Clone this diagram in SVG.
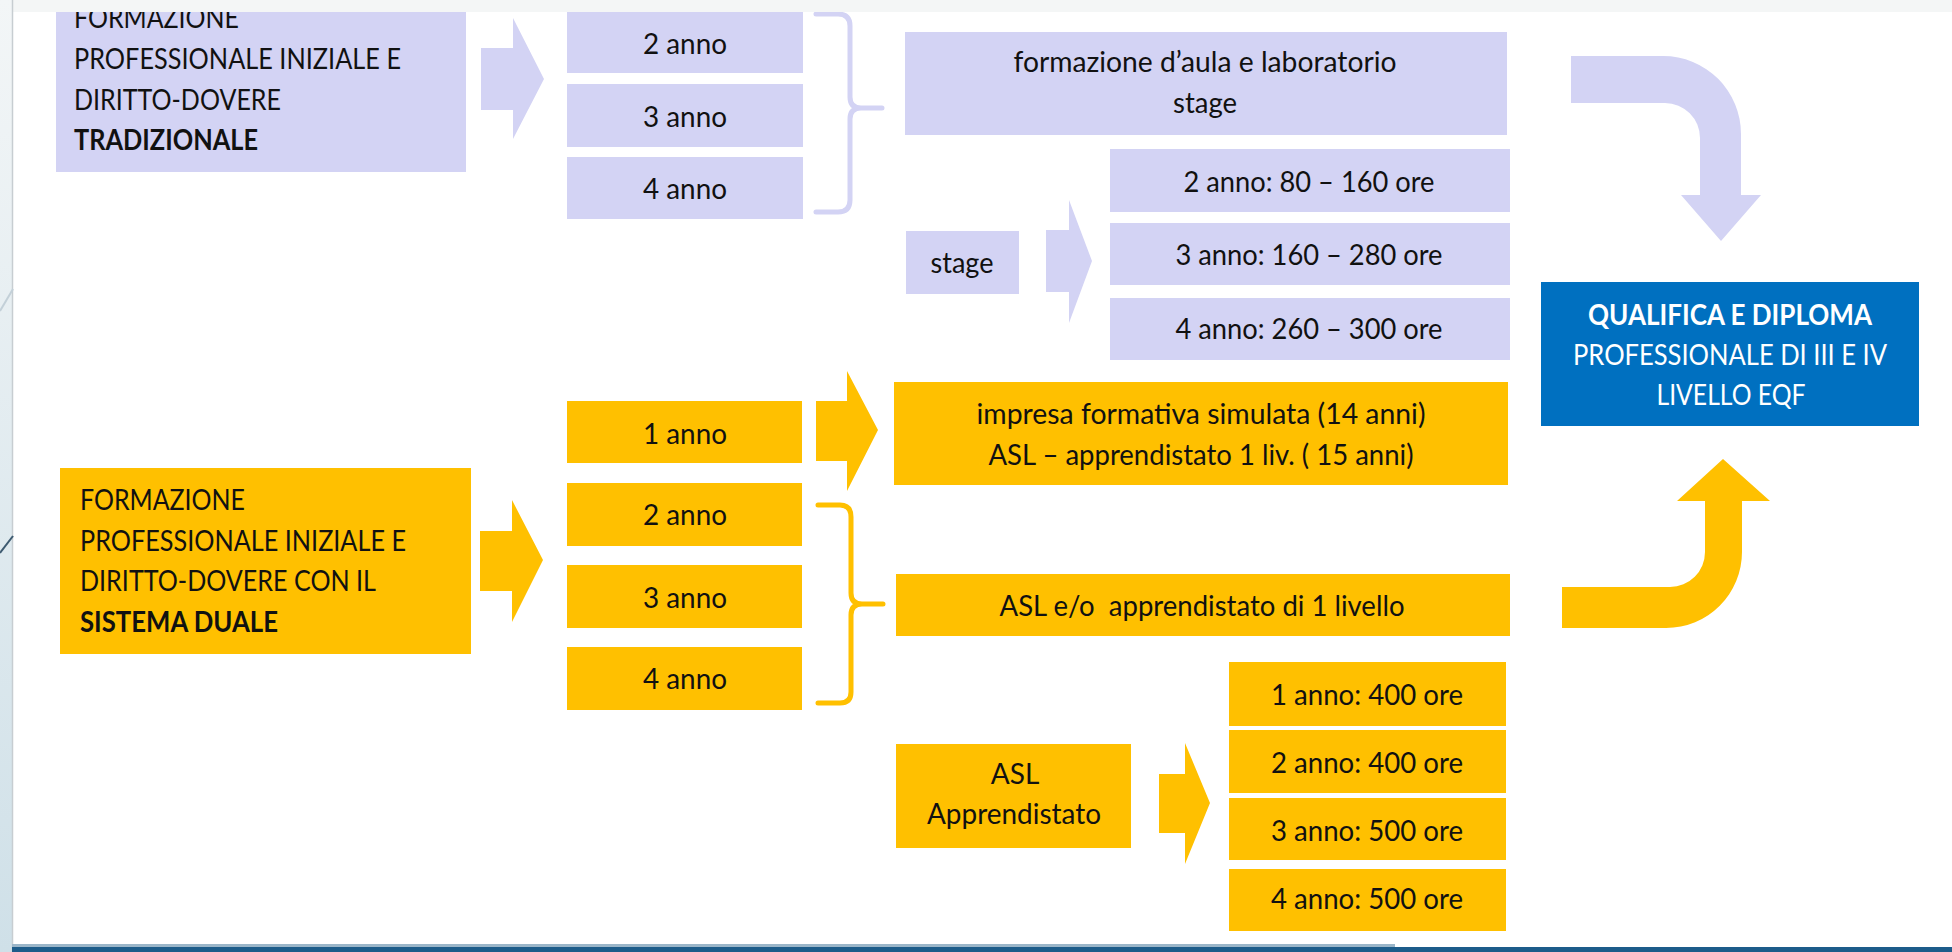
<svg xmlns="http://www.w3.org/2000/svg" width="1952" height="952" viewBox="0 0 1952 952">
<defs>
<linearGradient id="side" x1="0" y1="0" x2="0" y2="1">
<stop offset="0" stop-color="#f3f6f7"/>
<stop offset="1" stop-color="#cfe0e8"/>
</linearGradient>
<style>
.lav{fill:#d3d3f4}
.yel{fill:#ffc000}
.blu{fill:#0070c0}
text{font-family:Lato,"Open Sans","Liberation Sans",sans-serif;fill:#111111}
.m{font-size:29px}
.yr{font-size:28px;text-anchor:middle}
.c{font-size:28px;text-anchor:middle}
.b{font-weight:bold}
.w{fill:#ffffff}
.brl{fill:none;stroke:#d3d3f4;stroke-width:5;stroke-linecap:round}
.bry{fill:none;stroke:#ffc000;stroke-width:5;stroke-linecap:round}
</style>
</defs>
<rect x="0" y="0" width="1952" height="952" fill="#ffffff"/>

<g id="node-tradizionale">
<rect class="lav" x="56" y="0" width="410" height="172"/>
<text class="m" x="74" y="28" textLength="165" lengthAdjust="spacingAndGlyphs">FORMAZIONE</text>
<text class="m" x="74" y="69" textLength="327" lengthAdjust="spacingAndGlyphs">PROFESSIONALE INIZIALE E</text>
<text class="m" x="74" y="110" textLength="207" lengthAdjust="spacingAndGlyphs">DIRITTO-DOVERE</text>
<text class="m b" x="74" y="150" textLength="184" lengthAdjust="spacingAndGlyphs">TRADIZIONALE</text>
</g>

<g id="node-t2"><rect class="lav" x="567" y="12" width="236" height="61"/><text class="yr" x="685" y="54" textLength="84" lengthAdjust="spacingAndGlyphs">2 anno</text></g>
<g id="node-t3"><rect class="lav" x="567" y="84" width="236" height="63"/><text class="yr" x="685" y="127" textLength="84" lengthAdjust="spacingAndGlyphs">3 anno</text></g>
<g id="node-t4"><rect class="lav" x="567" y="157" width="236" height="62"/><text class="yr" x="685" y="199" textLength="84" lengthAdjust="spacingAndGlyphs">4 anno</text></g>

<g id="node-aula">
<rect class="lav" x="905" y="32" width="602" height="103"/>
<text class="c" x="1205" y="72" textLength="383" lengthAdjust="spacingAndGlyphs">formazione d’aula e laboratorio</text>
<text class="c" x="1205" y="113" textLength="64" lengthAdjust="spacingAndGlyphs">stage</text>
</g>

<g id="node-stage"><rect class="lav" x="906" y="231" width="113" height="63"/><text class="yr" x="962" y="273" textLength="63" lengthAdjust="spacingAndGlyphs">stage</text></g>

<g id="node-s2"><rect class="lav" x="1110" y="149" width="400" height="63"/><text class="c" x="1309" y="192" textLength="251" lengthAdjust="spacingAndGlyphs">2 anno: 80 – 160 ore</text></g>
<g id="node-s3"><rect class="lav" x="1110" y="223" width="400" height="62"/><text class="c" x="1309" y="265" textLength="267" lengthAdjust="spacingAndGlyphs">3 anno: 160 – 280 ore</text></g>
<g id="node-s4"><rect class="lav" x="1110" y="298" width="400" height="62"/><text class="c" x="1309" y="339" textLength="267" lengthAdjust="spacingAndGlyphs">4 anno: 260 – 300 ore</text></g>

<g id="node-qualifica">
<rect class="blu" x="1541" y="282" width="378" height="144"/>
<text class="c w b" x="1730" y="325" textLength="284" lengthAdjust="spacingAndGlyphs">QUALIFICA E DIPLOMA</text>
<text class="c w" x="1730" y="365" textLength="314" lengthAdjust="spacingAndGlyphs">PROFESSIONALE DI III E IV</text>
<text class="c w" x="1731" y="405" textLength="149" lengthAdjust="spacingAndGlyphs">LIVELLO EQF</text>
</g>

<g id="node-duale">
<rect class="yel" x="60" y="468" width="411" height="186"/>
<text class="m" x="80" y="510" textLength="165" lengthAdjust="spacingAndGlyphs">FORMAZIONE</text>
<text class="m" x="80" y="551" textLength="326" lengthAdjust="spacingAndGlyphs">PROFESSIONALE INIZIALE E</text>
<text class="m" x="80" y="591" textLength="296" lengthAdjust="spacingAndGlyphs">DIRITTO-DOVERE CON IL</text>
<text class="m b" x="80" y="632" textLength="198" lengthAdjust="spacingAndGlyphs">SISTEMA DUALE</text>
</g>

<g id="node-d1"><rect class="yel" x="567" y="401" width="235" height="62"/><text class="yr" x="685" y="444" textLength="84" lengthAdjust="spacingAndGlyphs">1 anno</text></g>
<g id="node-d2"><rect class="yel" x="567" y="483" width="235" height="63"/><text class="yr" x="685" y="525" textLength="84" lengthAdjust="spacingAndGlyphs">2 anno</text></g>
<g id="node-d3"><rect class="yel" x="567" y="565" width="235" height="63"/><text class="yr" x="685" y="608" textLength="84" lengthAdjust="spacingAndGlyphs">3 anno</text></g>
<g id="node-d4"><rect class="yel" x="567" y="647" width="235" height="63"/><text class="yr" x="685" y="689" textLength="84" lengthAdjust="spacingAndGlyphs">4 anno</text></g>

<g id="node-impresa">
<rect class="yel" x="894" y="382" width="614" height="103"/>
<text class="c" x="1201" y="424" textLength="449" lengthAdjust="spacingAndGlyphs">impresa formativa simulata (14 anni)</text>
<text class="c" x="1201" y="465" textLength="425" lengthAdjust="spacingAndGlyphs">ASL – apprendistato 1 liv. ( 15 anni)</text>
</g>

<g id="node-asl-eo">
<rect class="yel" x="896" y="574" width="614" height="62"/>
<text class="c" x="1202" y="616" textLength="405" lengthAdjust="spacingAndGlyphs" style="white-space:pre">ASL e/o  apprendistato di 1 livello</text>
</g>

<g id="node-asl-appr">
<rect class="yel" x="896" y="744" width="235" height="104"/>
<text class="c" x="1015" y="784">ASL</text>
<text class="c" x="1014" y="824" textLength="174" lengthAdjust="spacingAndGlyphs">Apprendistato</text>
</g>

<g id="node-h1"><rect class="yel" x="1229" y="662" width="277" height="64"/><text class="c" x="1367" y="705" textLength="192" lengthAdjust="spacingAndGlyphs">1 anno: 400 ore</text></g>
<g id="node-h2"><rect class="yel" x="1229" y="730" width="277" height="63"/><text class="c" x="1367" y="773" textLength="192" lengthAdjust="spacingAndGlyphs">2 anno: 400 ore</text></g>
<g id="node-h3"><rect class="yel" x="1229" y="798" width="277" height="62"/><text class="c" x="1367" y="841" textLength="192" lengthAdjust="spacingAndGlyphs">3 anno: 500 ore</text></g>
<g id="node-h4"><rect class="yel" x="1229" y="869" width="277" height="62"/><text class="c" x="1367" y="909" textLength="192" lengthAdjust="spacingAndGlyphs">4 anno: 500 ore</text></g>

<g id="connectors">
<polygon class="lav" points="481,48 513,48 513,18 544,79 513,139 513,110 481,110"/>
<path class="brl" d="M816,14 H838 Q850,14 850,26 V97 Q850,108 861,108 H882 M861,108 Q850,108 850,119 V200 Q850,212 838,212 H816"/>
<polygon class="lav" points="1046,230 1069,230 1069,200 1092,261 1069,323 1069,292 1046,292"/>
<path class="lav" d="M1571,56 H1663 A78,78 0 0 1 1741,134 V195 H1761 L1721,241 L1681,195 H1700 V138 A35,35 0 0 0 1665,103 H1571 Z"/>

<polygon class="yel" points="480,531 512,531 512,500 543,560 512,622 512,591 480,591"/>
<polygon class="yel" points="816,401 847,401 847,371 878,430 847,491 847,461 816,461"/>
<path class="bry" d="M818,505 H840 Q851,505 851,517 V593 Q851,604 862,604 H883 M862,604 Q851,604 851,615 V692 Q851,703 840,703 H818"/>
<polygon class="yel" points="1159,774 1185,774 1185,743 1210,803 1185,864 1185,833 1159,833"/>
<path class="yel" d="M1562,587 H1670 A35,35 0 0 0 1705,552 V501 H1677 L1723,459 L1770,501 H1742 V552 A76,76 0 0 1 1666,628 H1562 Z"/>
</g>

<g id="frame">
<rect x="0" y="0" width="1952" height="12" fill="#f4f6f6"/>
<rect x="0" y="0" width="12" height="952" fill="url(#side)"/>
<line x1="12.5" y1="0" x2="12.5" y2="952" stroke="#c7cdd1" stroke-width="1.5"/>
<line x1="0" y1="311" x2="13" y2="289" stroke="#c3d0d8" stroke-width="2"/>
<line x1="0" y1="553" x2="13" y2="536" stroke="#3d5a70" stroke-width="2"/>
<rect x="12" y="944" width="1383" height="3" fill="#9bb6c9"/>
<rect x="12" y="947" width="1940" height="5" fill="#1d5c8a"/>
</g>
</svg>
